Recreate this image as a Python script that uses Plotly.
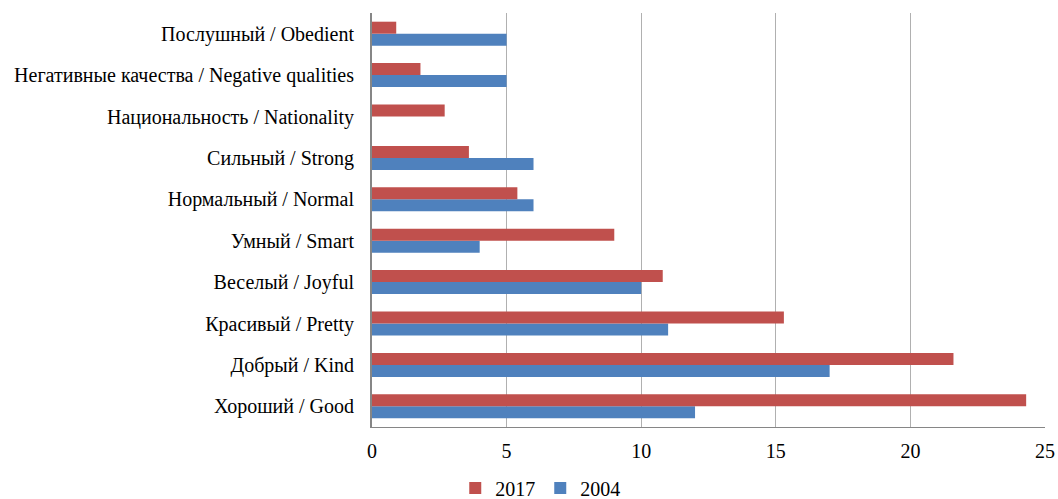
import plotly.graph_objects as go

categories = [
    "Хороший / Good",
    "Добрый / Kind",
    "Красивый / Pretty",
    "Веселый / Joyful",
    "Умный / Smart",
    "Нормальный / Normal",
    "Сильный / Strong",
    "Национальность / Nationality",
    "Негативные качества / Negative qualities",
    "Послушный / Obedient",
]
values_2017 = [24.3, 21.6, 15.3, 10.8, 9.0, 5.4, 3.6, 2.7, 1.8, 0.9]
values_2004 = [12, 17, 11, 10, 4, 6, 6, 0, 5, 5]

fig = go.Figure()
fig.add_trace(go.Bar(y=categories, x=values_2004, name="2004", orientation="h",
                     marker=dict(color="#4F81BD", line=dict(width=0))))
fig.add_trace(go.Bar(y=categories, x=values_2017, name="2017", orientation="h",
                     marker=dict(color="#C0504D", line=dict(width=0))))

font = "Liberation Serif"
fig.update_layout(
    barmode="group",
    bargap=0.42,
    bargroupgap=0,
    width=1058, height=499,
    margin=dict(l=372, r=13, t=13, b=72, autoexpand=False),
    paper_bgcolor="white",
    plot_bgcolor="white",
    font=dict(family=font, size=20, color="#000000"),
    showlegend=True,
    legend=dict(orientation="h", x=0.25, xanchor="center", y=-0.1, yanchor="top",
                traceorder="reversed", font=dict(family=font, size=20, color="#000000"),
                itemwidth=30, tracegroupgap=0, bgcolor="rgba(0,0,0,0)"),
    xaxis=dict(range=[0, 25], dtick=5, tick0=0, showgrid=True, gridcolor="#b0b0b0",
               gridwidth=1, showline=True, linecolor="#868686", linewidth=1,
               zeroline=False, ticks="", tickfont=dict(family=font, size=20, color="#000000"),
               ticklabelstandoff=6, mirror=False),
    yaxis=dict(showline=True, linecolor="#868686", linewidth=2, ticks="",
               tickfont=dict(family=font, size=20, color="#000000"), ticklabelstandoff=12,
               showgrid=False),
)
fig.write_html("out.html")
